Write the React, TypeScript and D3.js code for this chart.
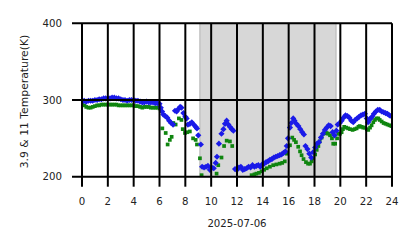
import React from "react";
import * as d3 from "d3";

const blueHours = [0.0,0.17,0.33,0.5,0.67,0.83,1.0,1.17,1.33,1.5,1.67,1.83,2.0,2.17,2.33,2.5,2.67,2.83,3.0,3.17,3.33,3.5,3.67,3.83,4.0,4.17,4.33,4.5,4.67,4.83,5.0,5.17,5.33,5.5,5.67,5.83,6.0,6.1,6.2,6.3,6.45,6.6,6.75,6.9,7.05,7.2,7.33,7.45,7.6,7.7,7.85,8.0,8.1,8.2,8.35,8.5,8.65,8.8,8.9,9.0,9.2,9.3,9.45,9.6,9.75,9.9,10.05,10.2,10.35,10.45,10.6,10.8,10.95,11.07,11.2,11.33,11.45,11.6,11.72,11.85,12.0,12.15,12.3,12.45,12.6,12.75,12.9,13.05,13.2,13.35,13.5,13.65,13.8,13.95,14.1,14.25,14.4,14.55,14.7,14.85,15.0,15.15,15.3,15.45,15.6,15.75,15.85,15.95,16.1,16.2,16.35,16.45,16.6,16.75,16.9,17.05,17.18,17.3,17.45,17.6,17.75,17.9,18.05,18.2,18.35,18.5,18.65,18.8,18.95,19.1,19.25,19.4,19.55,19.7,19.8,19.95,20.1,20.25,20.4,20.55,20.7,20.85,21.0,21.15,21.3,21.45,21.6,21.75,21.9,22.05,22.15,22.3,22.45,22.6,22.75,22.9,23.05,23.2,23.35,23.5,23.65,23.8,23.95];
const blueTemps = [298,299,298,299,299,299,300,300,301,301,302,302,302,302,303,303,302,302,301,300,300,299,300,300,300,299,299,298,297,297,298,297,297,297,296,296,295,290,285,281,279,277,273,270,268,286,285,288,291,290,283,278,276,268,269,271,268,265,263,254,242,213,212,213,214,209,212,211,218,226,243,256,262,269,273,268,265,262,260,210,209,212,213,209,210,211,213,212,215,213,214,215,213,216,217,219,220,222,223,225,226,227,228,229,231,233,240,250,264,270,276,273,269,266,262,258,255,240,236,230,225,232,238,243,245,251,256,261,264,267,266,258,254,260,268,270,273,277,280,279,277,273,271,274,276,278,280,281,282,276,271,275,278,282,285,287,287,285,284,283,282,280,279];

const greenHours = [0.0,0.17,0.33,0.5,0.67,0.83,1.0,1.17,1.33,1.5,1.67,1.83,2.0,2.17,2.33,2.5,2.67,2.83,3.0,3.17,3.33,3.5,3.67,3.83,4.0,4.17,4.33,4.5,4.67,4.83,5.0,5.17,5.33,5.5,5.67,5.83,6.0,6.1,6.22,6.48,6.63,6.8,6.94,7.07,7.25,7.5,7.7,7.8,7.97,8.15,8.35,8.6,8.8,8.9,9.13,9.26,9.5,10.0,10.42,10.55,10.8,11.0,11.2,11.45,11.63,11.85,12.5,13.13,13.35,13.5,13.7,13.9,14.1,14.3,14.55,14.8,15.05,15.3,15.5,15.7,15.85,15.95,16.1,16.28,16.42,16.56,16.74,16.88,17.0,17.15,17.34,17.5,17.65,17.78,17.9,18.05,18.17,18.3,18.4,18.55,18.7,18.82,18.94,19.05,19.2,19.35,19.45,19.6,19.75,19.84,19.97,20.1,20.2,20.3,20.45,20.6,20.75,20.95,21.1,21.26,21.4,21.5,21.65,21.77,21.9,22.05,22.16,22.3,22.42,22.55,22.68,22.8,22.94,23.05,23.2,23.35,23.5,23.65,23.8,23.95];
const greenTemps = [294,293,291,290,290,291,292,293,293,294,294,294,294,294,294,294,294,293,293,293,293,293,293,293,293,292,292,291,290,291,291,291,290,290,290,290,289,286,263,257,242,248,252,270,268,276,274,262,257,258,259,250,248,242,224,202,197,196,204,215,225,240,247,246,240,195,193,202,203,204,205,207,209,211,213,215,216,217,218,220,230,240,241,251,248,245,239,233,228,223,219,217,217,220,224,229,235,240,246,251,256,257,257,256,254,250,243,243,250,256,256,258,262,265,264,263,262,261,262,263,265,266,265,264,264,262,261,264,267,271,274,276,276,274,272,270,269,268,267,266];

const xTicks = [0,2,4,6,8,10,12,14,16,18,20,22,24];
const yTicks = [200,300,400];
const nightSpan = [9.13, 19.66];
const dateLabel = "2025-07-06";
const yLabel = "3.9 & 11 Temperature(K)";

export default function App() {
  const W = 418, H = 248;
  const left = 82, right = 392, top = 23.3, bottom = 176.7;
  const x = d3.scaleLinear().domain([0, 24]).range([left, right]);
  const y = d3.scaleLinear().domain([200, 400]).range([bottom, top]);
  const font = "DejaVu Sans, sans-serif";
  const fs = 10.2;
  const r = 3.1;
  const sq = 3.7;
  const diamond = (cx: number, cy: number) =>
    `M${cx},${cy - r}L${cx + r},${cy}L${cx},${cy + r}L${cx - r},${cy}Z`;

  return (
    <svg width={W} height={H} style={{ position: "absolute", left: 0, top: 0, background: "#fff" }}>
      <defs>
        <clipPath id="plot">
          <rect x={left} y={top} width={right - left} height={bottom - top} />
        </clipPath>
      </defs>
      <rect
        x={x(nightSpan[0])}
        y={top}
        width={x(nightSpan[1]) - x(nightSpan[0])}
        height={bottom - top}
        fill="#d7d7d7"
        stroke="#c3c3c3"
        strokeWidth={1.5}
      />
      <g clipPath="url(#plot)">
        {greenHours.map((h, i) => (
          <rect
            key={"g" + i}
            x={x(h) - sq / 2}
            y={y(greenTemps[i]) - sq / 2}
            width={sq}
            height={sq}
            fill="#0f850f"
          />
        ))}
        {blueHours.map((h, i) => (
          <path key={"b" + i} d={diamond(x(h), y(blueTemps[i]))} fill="#1a1ae8" />
        ))}
      </g>
      {xTicks.map((t) => (
        <line key={"xv" + t} x1={x(t)} x2={x(t)} y1={top} y2={bottom + 10} stroke="#000" strokeWidth={2} />
      ))}
      {yTicks.map((t) => (
        <line key={"yh" + t} x1={left - 10} x2={right} y1={y(t)} y2={y(t)} stroke="#000" strokeWidth={2} />
      ))}
      {xTicks.map((t) => (
        <text key={"xl" + t} x={x(t)} y={201.7} fontFamily={font} fontSize={fs} textAnchor="middle" dominantBaseline="central" fill="#222">
          {t}
        </text>
      ))}
      {yTicks.map((t) => (
        <text key={"yl" + t} x={62} y={y(t)} fontFamily={font} fontSize={fs} textAnchor="end" dominantBaseline="central" fill="#222">
          {t}
        </text>
      ))}
      <text x={(left + right) / 2} y={223} fontFamily={font} fontSize={fs} textAnchor="middle" dominantBaseline="central" fill="#222">
        {dateLabel}
      </text>
      <text
        transform={`translate(24,101.5) rotate(-90)`}
        fontFamily={font}
        fontSize={10.8}
        textAnchor="middle"
        dominantBaseline="central"
        fill="#222"
      >
        {yLabel}
      </text>
    </svg>
  );
}
